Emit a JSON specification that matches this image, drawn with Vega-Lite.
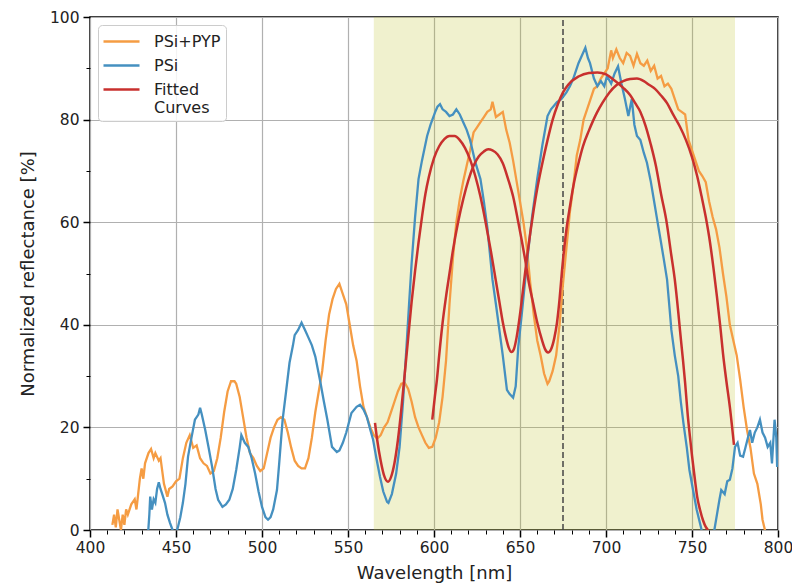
{
  "$schema": "https://vega.github.io/schema/vega-lite/v6.json",
  "width": 688,
  "height": 513,
  "autosize": {"type": "none"},
  "padding": {"left": 90, "top": 17, "right": 14, "bottom": 58},
  "background": "white",
  "config": {
    "view": {"stroke": "black", "strokeWidth": 1.5},
    "font": "DejaVu Sans",
    "axis": {
      "labelFont": "DejaVu Sans", "labelFontSize": 15.5, "labelColor": "#222",
      "titleFont": "DejaVu Sans", "titleFontSize": 18, "titleFontWeight": "normal", "titleColor": "#222",
      "domain": false, "tickColor": "black", "gridColor": "#b0b0b0", "gridWidth": 1.2
    },
    "legend": {
      "labelFont": "DejaVu Sans", "labelFontSize": 16, "labelColor": "#222"
    }
  },
  "datasets": {
    "curves": [
      {"w":413,"r":1,"s":"PSi+PYP"},{"w":414,"r":3,"s":"PSi+PYP"},{"w":415,"r":0.5,"s":"PSi+PYP"},{"w":416,"r":4,"s":"PSi+PYP"},{"w":417,"r":2,"s":"PSi+PYP"},{"w":418,"r":0,"s":"PSi+PYP"},{"w":419,"r":3,"s":"PSi+PYP"},{"w":420,"r":1,"s":"PSi+PYP"},{"w":421,"r":4,"s":"PSi+PYP"},{"w":422,"r":3,"s":"PSi+PYP"},{"w":424,"r":5,"s":"PSi+PYP"},{"w":426,"r":6,"s":"PSi+PYP"},{"w":427,"r":4,"s":"PSi+PYP"},{"w":428,"r":7,"s":"PSi+PYP"},{"w":429,"r":10,"s":"PSi+PYP"},{"w":430,"r":12,"s":"PSi+PYP"},{"w":431,"r":10,"s":"PSi+PYP"},{"w":432,"r":13,"s":"PSi+PYP"},{"w":434,"r":15,"s":"PSi+PYP"},{"w":435.5,"r":15.8,"s":"PSi+PYP"},{"w":437,"r":14,"s":"PSi+PYP"},{"w":438,"r":15,"s":"PSi+PYP"},{"w":440,"r":13.5,"s":"PSi+PYP"},{"w":441,"r":14,"s":"PSi+PYP"},{"w":443,"r":9,"s":"PSi+PYP"},{"w":445,"r":6.5,"s":"PSi+PYP"},{"w":446,"r":8,"s":"PSi+PYP"},{"w":448,"r":8.5,"s":"PSi+PYP"},{"w":450,"r":9.5,"s":"PSi+PYP"},{"w":452,"r":10,"s":"PSi+PYP"},{"w":454,"r":14,"s":"PSi+PYP"},{"w":456,"r":17,"s":"PSi+PYP"},{"w":458,"r":18.5,"s":"PSi+PYP"},{"w":460,"r":16,"s":"PSi+PYP"},{"w":462,"r":16.5,"s":"PSi+PYP"},{"w":464,"r":14,"s":"PSi+PYP"},{"w":466,"r":13,"s":"PSi+PYP"},{"w":468,"r":12.5,"s":"PSi+PYP"},{"w":470,"r":11,"s":"PSi+PYP"},{"w":472,"r":11.5,"s":"PSi+PYP"},{"w":474,"r":14,"s":"PSi+PYP"},{"w":476,"r":18,"s":"PSi+PYP"},{"w":478,"r":23,"s":"PSi+PYP"},{"w":480,"r":27,"s":"PSi+PYP"},{"w":482,"r":29,"s":"PSi+PYP"},{"w":484,"r":29,"s":"PSi+PYP"},{"w":485,"r":28.5,"s":"PSi+PYP"},{"w":487,"r":26,"s":"PSi+PYP"},{"w":489,"r":22,"s":"PSi+PYP"},{"w":491,"r":18,"s":"PSi+PYP"},{"w":493,"r":15,"s":"PSi+PYP"},{"w":495,"r":14,"s":"PSi+PYP"},{"w":497,"r":12.5,"s":"PSi+PYP"},{"w":499,"r":11.5,"s":"PSi+PYP"},{"w":501,"r":12,"s":"PSi+PYP"},{"w":503,"r":15,"s":"PSi+PYP"},{"w":505,"r":18,"s":"PSi+PYP"},{"w":507,"r":20,"s":"PSi+PYP"},{"w":509,"r":21.5,"s":"PSi+PYP"},{"w":511,"r":22,"s":"PSi+PYP"},{"w":513,"r":21.5,"s":"PSi+PYP"},{"w":515,"r":19,"s":"PSi+PYP"},{"w":517,"r":16,"s":"PSi+PYP"},{"w":519,"r":13.5,"s":"PSi+PYP"},{"w":521,"r":12.5,"s":"PSi+PYP"},{"w":523,"r":12,"s":"PSi+PYP"},{"w":525,"r":12,"s":"PSi+PYP"},{"w":527,"r":14,"s":"PSi+PYP"},{"w":529,"r":18,"s":"PSi+PYP"},{"w":531,"r":23,"s":"PSi+PYP"},{"w":533,"r":27,"s":"PSi+PYP"},{"w":535,"r":31,"s":"PSi+PYP"},{"w":537,"r":37,"s":"PSi+PYP"},{"w":539,"r":42,"s":"PSi+PYP"},{"w":541,"r":45,"s":"PSi+PYP"},{"w":543,"r":47,"s":"PSi+PYP"},{"w":545,"r":48,"s":"PSi+PYP"},{"w":547,"r":46,"s":"PSi+PYP"},{"w":549,"r":44,"s":"PSi+PYP"},{"w":551,"r":40,"s":"PSi+PYP"},{"w":553,"r":36,"s":"PSi+PYP"},{"w":555,"r":33,"s":"PSi+PYP"},{"w":557,"r":28,"s":"PSi+PYP"},{"w":559,"r":24,"s":"PSi+PYP"},{"w":561,"r":22,"s":"PSi+PYP"},{"w":563,"r":20,"s":"PSi+PYP"},{"w":565,"r":18.5,"s":"PSi+PYP"},{"w":567,"r":17.8,"s":"PSi+PYP"},{"w":569,"r":18.5,"s":"PSi+PYP"},{"w":571,"r":20,"s":"PSi+PYP"},{"w":573,"r":21,"s":"PSi+PYP"},{"w":575,"r":23,"s":"PSi+PYP"},{"w":577,"r":25,"s":"PSi+PYP"},{"w":579,"r":27,"s":"PSi+PYP"},{"w":581,"r":28.5,"s":"PSi+PYP"},{"w":583,"r":28.7,"s":"PSi+PYP"},{"w":585,"r":27.5,"s":"PSi+PYP"},{"w":587,"r":25,"s":"PSi+PYP"},{"w":589,"r":22,"s":"PSi+PYP"},{"w":591,"r":20,"s":"PSi+PYP"},{"w":593,"r":18.5,"s":"PSi+PYP"},{"w":595,"r":17,"s":"PSi+PYP"},{"w":597,"r":16,"s":"PSi+PYP"},{"w":599,"r":16.2,"s":"PSi+PYP"},{"w":601,"r":18,"s":"PSi+PYP"},{"w":603,"r":21,"s":"PSi+PYP"},{"w":605,"r":26,"s":"PSi+PYP"},{"w":607,"r":33,"s":"PSi+PYP"},{"w":609,"r":44,"s":"PSi+PYP"},{"w":611,"r":53,"s":"PSi+PYP"},{"w":613,"r":60,"s":"PSi+PYP"},{"w":615,"r":64.5,"s":"PSi+PYP"},{"w":617,"r":68,"s":"PSi+PYP"},{"w":619,"r":71,"s":"PSi+PYP"},{"w":621,"r":74,"s":"PSi+PYP"},{"w":623,"r":77.5,"s":"PSi+PYP"},{"w":625,"r":78.5,"s":"PSi+PYP"},{"w":627,"r":79.5,"s":"PSi+PYP"},{"w":629,"r":80.5,"s":"PSi+PYP"},{"w":631,"r":81.5,"s":"PSi+PYP"},{"w":633,"r":82,"s":"PSi+PYP"},{"w":634,"r":83.5,"s":"PSi+PYP"},{"w":635,"r":82,"s":"PSi+PYP"},{"w":636,"r":80.5,"s":"PSi+PYP"},{"w":638,"r":81,"s":"PSi+PYP"},{"w":640,"r":81.5,"s":"PSi+PYP"},{"w":642,"r":78,"s":"PSi+PYP"},{"w":644,"r":75.5,"s":"PSi+PYP"},{"w":646,"r":72,"s":"PSi+PYP"},{"w":648,"r":68,"s":"PSi+PYP"},{"w":650,"r":64,"s":"PSi+PYP"},{"w":652,"r":60,"s":"PSi+PYP"},{"w":654,"r":55,"s":"PSi+PYP"},{"w":656,"r":48,"s":"PSi+PYP"},{"w":658,"r":42,"s":"PSi+PYP"},{"w":660,"r":37,"s":"PSi+PYP"},{"w":662,"r":34,"s":"PSi+PYP"},{"w":664,"r":30.5,"s":"PSi+PYP"},{"w":666,"r":28.5,"s":"PSi+PYP"},{"w":667,"r":29,"s":"PSi+PYP"},{"w":669,"r":31,"s":"PSi+PYP"},{"w":671,"r":34,"s":"PSi+PYP"},{"w":673,"r":40,"s":"PSi+PYP"},{"w":675,"r":48,"s":"PSi+PYP"},{"w":677,"r":55,"s":"PSi+PYP"},{"w":679,"r":62,"s":"PSi+PYP"},{"w":681,"r":67,"s":"PSi+PYP"},{"w":683,"r":73,"s":"PSi+PYP"},{"w":685,"r":76,"s":"PSi+PYP"},{"w":687,"r":80,"s":"PSi+PYP"},{"w":689,"r":82,"s":"PSi+PYP"},{"w":691,"r":84,"s":"PSi+PYP"},{"w":693,"r":86,"s":"PSi+PYP"},{"w":695,"r":86.5,"s":"PSi+PYP"},{"w":697,"r":88,"s":"PSi+PYP"},{"w":699,"r":89,"s":"PSi+PYP"},{"w":701,"r":90,"s":"PSi+PYP"},{"w":703,"r":93.5,"s":"PSi+PYP"},{"w":704,"r":92,"s":"PSi+PYP"},{"w":706,"r":93.7,"s":"PSi+PYP"},{"w":708,"r":92,"s":"PSi+PYP"},{"w":710,"r":91,"s":"PSi+PYP"},{"w":712,"r":93,"s":"PSi+PYP"},{"w":714,"r":92.4,"s":"PSi+PYP"},{"w":716,"r":90.5,"s":"PSi+PYP"},{"w":718,"r":92.8,"s":"PSi+PYP"},{"w":720,"r":91,"s":"PSi+PYP"},{"w":722,"r":90.5,"s":"PSi+PYP"},{"w":724,"r":91.5,"s":"PSi+PYP"},{"w":726,"r":89.5,"s":"PSi+PYP"},{"w":728,"r":90.5,"s":"PSi+PYP"},{"w":730,"r":88,"s":"PSi+PYP"},{"w":732,"r":88.5,"s":"PSi+PYP"},{"w":734,"r":86.5,"s":"PSi+PYP"},{"w":736,"r":87,"s":"PSi+PYP"},{"w":738,"r":86,"s":"PSi+PYP"},{"w":740,"r":84,"s":"PSi+PYP"},{"w":742,"r":82,"s":"PSi+PYP"},{"w":744,"r":81.5,"s":"PSi+PYP"},{"w":746,"r":81,"s":"PSi+PYP"},{"w":748,"r":76,"s":"PSi+PYP"},{"w":750,"r":74,"s":"PSi+PYP"},{"w":752,"r":72,"s":"PSi+PYP"},{"w":754,"r":70,"s":"PSi+PYP"},{"w":756,"r":69,"s":"PSi+PYP"},{"w":758,"r":67.8,"s":"PSi+PYP"},{"w":760,"r":64,"s":"PSi+PYP"},{"w":762,"r":61,"s":"PSi+PYP"},{"w":764,"r":58.6,"s":"PSi+PYP"},{"w":766,"r":55,"s":"PSi+PYP"},{"w":768,"r":50,"s":"PSi+PYP"},{"w":770,"r":45.5,"s":"PSi+PYP"},{"w":772,"r":40,"s":"PSi+PYP"},{"w":774,"r":37,"s":"PSi+PYP"},{"w":776,"r":34,"s":"PSi+PYP"},{"w":778,"r":29.3,"s":"PSi+PYP"},{"w":780,"r":24,"s":"PSi+PYP"},{"w":782,"r":19.5,"s":"PSi+PYP"},{"w":784,"r":16,"s":"PSi+PYP"},{"w":786,"r":11,"s":"PSi+PYP"},{"w":788,"r":9,"s":"PSi+PYP"},{"w":790,"r":5,"s":"PSi+PYP"},{"w":791,"r":2,"s":"PSi+PYP"},{"w":792.4,"r":0,"s":"PSi+PYP"},{"w":793,"r":-3,"s":"PSi+PYP"},

      {"w":433.7,"r":-1,"s":"PSi"},{"w":434.5,"r":3,"s":"PSi"},{"w":435,"r":6.5,"s":"PSi"},{"w":436,"r":4,"s":"PSi"},{"w":437,"r":6,"s":"PSi"},{"w":438,"r":5.3,"s":"PSi"},{"w":439,"r":8,"s":"PSi"},{"w":440,"r":9.3,"s":"PSi"},{"w":441,"r":8,"s":"PSi"},{"w":442,"r":7,"s":"PSi"},{"w":443.6,"r":5.3,"s":"PSi"},{"w":445,"r":3,"s":"PSi"},{"w":446.5,"r":1.4,"s":"PSi"},{"w":448,"r":0,"s":"PSi"},{"w":449.5,"r":-1,"s":"PSi"},{"w":451,"r":0.4,"s":"PSi"},{"w":452.5,"r":2.5,"s":"PSi"},{"w":454,"r":5.3,"s":"PSi"},{"w":455.5,"r":9,"s":"PSi"},{"w":457,"r":14.3,"s":"PSi"},{"w":459,"r":18,"s":"PSi"},{"w":461,"r":21.5,"s":"PSi"},{"w":463,"r":22.5,"s":"PSi"},{"w":464,"r":23.8,"s":"PSi"},{"w":465,"r":22.5,"s":"PSi"},{"w":467,"r":19.5,"s":"PSi"},{"w":469,"r":16,"s":"PSi"},{"w":471,"r":12.3,"s":"PSi"},{"w":473,"r":8,"s":"PSi"},{"w":474.5,"r":5.9,"s":"PSi"},{"w":477,"r":4.5,"s":"PSi"},{"w":479,"r":5,"s":"PSi"},{"w":481,"r":5.9,"s":"PSi"},{"w":483,"r":8,"s":"PSi"},{"w":485,"r":11.7,"s":"PSi"},{"w":487,"r":16,"s":"PSi"},{"w":488,"r":18.5,"s":"PSi"},{"w":490,"r":17,"s":"PSi"},{"w":492,"r":16.2,"s":"PSi"},{"w":494,"r":14,"s":"PSi"},{"w":496,"r":11,"s":"PSi"},{"w":498,"r":7.5,"s":"PSi"},{"w":500,"r":4.5,"s":"PSi"},{"w":502,"r":2.5,"s":"PSi"},{"w":503.5,"r":2,"s":"PSi"},{"w":505,"r":2.5,"s":"PSi"},{"w":506.5,"r":4,"s":"PSi"},{"w":508.7,"r":7.8,"s":"PSi"},{"w":510,"r":13,"s":"PSi"},{"w":512,"r":21.5,"s":"PSi"},{"w":514,"r":27,"s":"PSi"},{"w":516,"r":32.6,"s":"PSi"},{"w":518,"r":36,"s":"PSi"},{"w":519,"r":38,"s":"PSi"},{"w":521,"r":39,"s":"PSi"},{"w":523,"r":40.4,"s":"PSi"},{"w":525,"r":39,"s":"PSi"},{"w":527,"r":37.5,"s":"PSi"},{"w":529,"r":36,"s":"PSi"},{"w":531,"r":33.8,"s":"PSi"},{"w":534,"r":28.7,"s":"PSi"},{"w":536,"r":25,"s":"PSi"},{"w":538,"r":21.5,"s":"PSi"},{"w":540.7,"r":16.2,"s":"PSi"},{"w":543.5,"r":15.2,"s":"PSi"},{"w":545,"r":15.5,"s":"PSi"},{"w":547,"r":17,"s":"PSi"},{"w":549,"r":19,"s":"PSi"},{"w":552,"r":22.8,"s":"PSi"},{"w":555,"r":24,"s":"PSi"},{"w":557,"r":24.4,"s":"PSi"},{"w":559,"r":23.5,"s":"PSi"},{"w":561,"r":22,"s":"PSi"},{"w":563,"r":19.5,"s":"PSi"},{"w":564.6,"r":17.6,"s":"PSi"},{"w":566.5,"r":14,"s":"PSi"},{"w":568.6,"r":10.4,"s":"PSi"},{"w":570.5,"r":7.5,"s":"PSi"},{"w":572.7,"r":5.5,"s":"PSi"},{"w":573.5,"r":5.3,"s":"PSi"},{"w":575.5,"r":7,"s":"PSi"},{"w":578,"r":11,"s":"PSi"},{"w":580,"r":16.2,"s":"PSi"},{"w":582,"r":25,"s":"PSi"},{"w":584,"r":35.7,"s":"PSi"},{"w":585.5,"r":44,"s":"PSi"},{"w":587,"r":52,"s":"PSi"},{"w":589,"r":61,"s":"PSi"},{"w":591,"r":68.4,"s":"PSi"},{"w":593,"r":72,"s":"PSi"},{"w":596,"r":76.8,"s":"PSi"},{"w":598,"r":79,"s":"PSi"},{"w":600.6,"r":81.4,"s":"PSi"},{"w":602,"r":82.5,"s":"PSi"},{"w":603.5,"r":83,"s":"PSi"},{"w":605,"r":82,"s":"PSi"},{"w":607,"r":81.5,"s":"PSi"},{"w":609,"r":80.7,"s":"PSi"},{"w":611,"r":81,"s":"PSi"},{"w":613,"r":82,"s":"PSi"},{"w":615,"r":81,"s":"PSi"},{"w":617,"r":79.5,"s":"PSi"},{"w":619,"r":78,"s":"PSi"},{"w":621,"r":76,"s":"PSi"},{"w":624,"r":71.7,"s":"PSi"},{"w":627,"r":68.4,"s":"PSi"},{"w":629,"r":64,"s":"PSi"},{"w":631,"r":59,"s":"PSi"},{"w":634,"r":48.8,"s":"PSi"},{"w":636,"r":44,"s":"PSi"},{"w":638,"r":39,"s":"PSi"},{"w":640,"r":34,"s":"PSi"},{"w":642.4,"r":27.3,"s":"PSi"},{"w":644,"r":26.5,"s":"PSi"},{"w":646,"r":25.8,"s":"PSi"},{"w":647.5,"r":28,"s":"PSi"},{"w":649,"r":35.7,"s":"PSi"},{"w":651,"r":42,"s":"PSi"},{"w":654,"r":52,"s":"PSi"},{"w":657,"r":61,"s":"PSi"},{"w":660,"r":68.4,"s":"PSi"},{"w":663,"r":75,"s":"PSi"},{"w":666,"r":80.7,"s":"PSi"},{"w":668,"r":82,"s":"PSi"},{"w":671.5,"r":83.4,"s":"PSi"},{"w":674,"r":84,"s":"PSi"},{"w":677,"r":85.3,"s":"PSi"},{"w":679,"r":86.5,"s":"PSi"},{"w":681,"r":88,"s":"PSi"},{"w":684,"r":91,"s":"PSi"},{"w":686,"r":92.5,"s":"PSi"},{"w":688,"r":94,"s":"PSi"},{"w":689.5,"r":92,"s":"PSi"},{"w":690.7,"r":91,"s":"PSi"},{"w":693,"r":88,"s":"PSi"},{"w":695,"r":86.5,"s":"PSi"},{"w":697,"r":87.5,"s":"PSi"},{"w":699,"r":86.5,"s":"PSi"},{"w":700.6,"r":88.5,"s":"PSi"},{"w":703,"r":87,"s":"PSi"},{"w":705,"r":89,"s":"PSi"},{"w":707,"r":90.4,"s":"PSi"},{"w":709,"r":87,"s":"PSi"},{"w":711,"r":84,"s":"PSi"},{"w":713,"r":80.7,"s":"PSi"},{"w":715,"r":84,"s":"PSi"},{"w":716.5,"r":79,"s":"PSi"},{"w":718,"r":76.8,"s":"PSi"},{"w":720,"r":76,"s":"PSi"},{"w":722,"r":73.5,"s":"PSi"},{"w":723.8,"r":71.6,"s":"PSi"},{"w":726,"r":68,"s":"PSi"},{"w":727.5,"r":65,"s":"PSi"},{"w":729.5,"r":61,"s":"PSi"},{"w":731.4,"r":57.2,"s":"PSi"},{"w":733.5,"r":53,"s":"PSi"},{"w":735.5,"r":48.8,"s":"PSi"},{"w":737,"r":43,"s":"PSi"},{"w":738,"r":39,"s":"PSi"},{"w":740,"r":34,"s":"PSi"},{"w":742,"r":30,"s":"PSi"},{"w":743.5,"r":25,"s":"PSi"},{"w":745,"r":20.9,"s":"PSi"},{"w":747,"r":16,"s":"PSi"},{"w":748.5,"r":11.7,"s":"PSi"},{"w":750.5,"r":8,"s":"PSi"},{"w":752.7,"r":4,"s":"PSi"},{"w":755.6,"r":0,"s":"PSi"},{"w":757,"r":-4,"s":"PSi"},{"w":760,"r":-6,"s":"PSi"},{"w":763,"r":0,"s":"PSi"},{"w":764.5,"r":3,"s":"PSi"},{"w":766,"r":6,"s":"PSi"},{"w":767,"r":7.8,"s":"PSi"},{"w":769,"r":7,"s":"PSi"},{"w":770.5,"r":9.5,"s":"PSi"},{"w":772,"r":9.8,"s":"PSi"},{"w":773.5,"r":12,"s":"PSi"},{"w":775,"r":16.2,"s":"PSi"},{"w":776.5,"r":17,"s":"PSi"},{"w":778,"r":14.5,"s":"PSi"},{"w":779.7,"r":14.3,"s":"PSi"},{"w":781,"r":16,"s":"PSi"},{"w":782.5,"r":18,"s":"PSi"},{"w":783.7,"r":19.5,"s":"PSi"},{"w":785,"r":17,"s":"PSi"},{"w":786.5,"r":19,"s":"PSi"},{"w":788,"r":20,"s":"PSi"},{"w":789.5,"r":21.5,"s":"PSi"},{"w":791,"r":19,"s":"PSi"},{"w":792.5,"r":18,"s":"PSi"},{"w":794,"r":16.2,"s":"PSi"},{"w":795.5,"r":17,"s":"PSi"},{"w":796.5,"r":13,"s":"PSi"},{"w":798,"r":21.5,"s":"PSi"},{"w":799,"r":18,"s":"PSi"},{"w":799.5,"r":12.3,"s":"PSi"}
    ],
    "fits": [
      {"w":565.7,"r":20.9,"g":"fit1"},{"w":567,"r":17.5,"g":"fit1"},{"w":569,"r":13.5,"g":"fit1"},{"w":571,"r":10.6,"g":"fit1"},{"w":573.3,"r":9.4,"g":"fit1"},{"w":575,"r":10.3,"g":"fit1"},{"w":577,"r":13,"g":"fit1"},{"w":579,"r":17.5,"g":"fit1"},{"w":581,"r":23.5,"g":"fit1"},{"w":583,"r":30.5,"g":"fit1"},{"w":585,"r":37.5,"g":"fit1"},{"w":587,"r":44.5,"g":"fit1"},{"w":589,"r":50.5,"g":"fit1"},{"w":591,"r":56,"g":"fit1"},{"w":593,"r":61,"g":"fit1"},{"w":595,"r":65.5,"g":"fit1"},{"w":597,"r":68.8,"g":"fit1"},{"w":600,"r":72.5,"g":"fit1"},{"w":603,"r":74.8,"g":"fit1"},{"w":606,"r":76.2,"g":"fit1"},{"w":609,"r":76.8,"g":"fit1"},{"w":612,"r":76.8,"g":"fit1"},{"w":615,"r":76,"g":"fit1"},{"w":618,"r":74.5,"g":"fit1"},{"w":621,"r":72.2,"g":"fit1"},{"w":624,"r":69,"g":"fit1"},{"w":627,"r":65,"g":"fit1"},{"w":630,"r":60,"g":"fit1"},{"w":633,"r":54.5,"g":"fit1"},{"w":636,"r":48.5,"g":"fit1"},{"w":638,"r":44.5,"g":"fit1"},{"w":640,"r":40.5,"g":"fit1"},{"w":642,"r":37.3,"g":"fit1"},{"w":643.5,"r":35.5,"g":"fit1"},{"w":645,"r":34.7,"g":"fit1"},{"w":646.5,"r":35.3,"g":"fit1"},{"w":648,"r":37.5,"g":"fit1"},{"w":650,"r":42,"g":"fit1"},{"w":652,"r":47.5,"g":"fit1"},{"w":654,"r":53,"g":"fit1"},{"w":656,"r":58,"g":"fit1"},{"w":658,"r":62.5,"g":"fit1"},{"w":660,"r":66.5,"g":"fit1"},{"w":663,"r":71.5,"g":"fit1"},{"w":666,"r":76,"g":"fit1"},{"w":669,"r":80,"g":"fit1"},{"w":672,"r":83,"g":"fit1"},{"w":675,"r":85.3,"g":"fit1"},{"w":678,"r":86.8,"g":"fit1"},{"w":684,"r":88.4,"g":"fit1"},{"w":690,"r":89.1,"g":"fit1"},{"w":695,"r":89.2,"g":"fit1"},{"w":700,"r":88.8,"g":"fit1"},{"w":705,"r":87.6,"g":"fit1"},{"w":710,"r":86.2,"g":"fit1"},{"w":714,"r":84.8,"g":"fit1"},{"w":717,"r":83.2,"g":"fit1"},{"w":720,"r":81.5,"g":"fit1"},{"w":723,"r":78.8,"g":"fit1"},{"w":726,"r":75.2,"g":"fit1"},{"w":729,"r":71,"g":"fit1"},{"w":732,"r":65.5,"g":"fit1"},{"w":735,"r":60.5,"g":"fit1"},{"w":738,"r":53.5,"g":"fit1"},{"w":740,"r":48.8,"g":"fit1"},{"w":742,"r":42.5,"g":"fit1"},{"w":743,"r":39,"g":"fit1"},{"w":744.5,"r":34,"g":"fit1"},{"w":746,"r":28.7,"g":"fit1"},{"w":747.5,"r":22.5,"g":"fit1"},{"w":748.8,"r":18.2,"g":"fit1"},{"w":750,"r":14.5,"g":"fit1"},{"w":751.7,"r":9.8,"g":"fit1"},{"w":753,"r":6.5,"g":"fit1"},{"w":754.7,"r":3.9,"g":"fit1"},{"w":756.5,"r":1.8,"g":"fit1"},{"w":758,"r":0.6,"g":"fit1"},{"w":759.3,"r":0,"g":"fit1"},

      {"w":599,"r":21.5,"g":"fit2"},{"w":600.5,"r":26,"g":"fit2"},{"w":601.7,"r":29.3,"g":"fit2"},{"w":603,"r":34,"g":"fit2"},{"w":605,"r":40.4,"g":"fit2"},{"w":607,"r":45.5,"g":"fit2"},{"w":609,"r":50,"g":"fit2"},{"w":611,"r":54.5,"g":"fit2"},{"w":614,"r":60,"g":"fit2"},{"w":617,"r":64.5,"g":"fit2"},{"w":620,"r":68.2,"g":"fit2"},{"w":623,"r":71,"g":"fit2"},{"w":626,"r":72.8,"g":"fit2"},{"w":629,"r":73.8,"g":"fit2"},{"w":631.5,"r":74.2,"g":"fit2"},{"w":634,"r":74,"g":"fit2"},{"w":637,"r":73.2,"g":"fit2"},{"w":640,"r":71.5,"g":"fit2"},{"w":643,"r":68.5,"g":"fit2"},{"w":646,"r":65,"g":"fit2"},{"w":649,"r":60,"g":"fit2"},{"w":651,"r":56.5,"g":"fit2"},{"w":653,"r":52.7,"g":"fit2"},{"w":655,"r":48.5,"g":"fit2"},{"w":657.6,"r":44.3,"g":"fit2"},{"w":660,"r":40.5,"g":"fit2"},{"w":662.8,"r":37,"g":"fit2"},{"w":664.5,"r":35.3,"g":"fit2"},{"w":666.3,"r":34.6,"g":"fit2"},{"w":668,"r":35.2,"g":"fit2"},{"w":670,"r":37.5,"g":"fit2"},{"w":671.5,"r":40.4,"g":"fit2"},{"w":673,"r":45,"g":"fit2"},{"w":674.4,"r":50.5,"g":"fit2"},{"w":677,"r":58.6,"g":"fit2"},{"w":679,"r":63,"g":"fit2"},{"w":681,"r":67,"g":"fit2"},{"w":684,"r":71.5,"g":"fit2"},{"w":686.6,"r":74.8,"g":"fit2"},{"w":690,"r":77.8,"g":"fit2"},{"w":694.8,"r":81.4,"g":"fit2"},{"w":698,"r":83.3,"g":"fit2"},{"w":702,"r":85.3,"g":"fit2"},{"w":706,"r":86.7,"g":"fit2"},{"w":710,"r":87.5,"g":"fit2"},{"w":714,"r":87.9,"g":"fit2"},{"w":718,"r":88,"g":"fit2"},{"w":722,"r":87.5,"g":"fit2"},{"w":725,"r":86.8,"g":"fit2"},{"w":728.5,"r":86,"g":"fit2"},{"w":732,"r":84.7,"g":"fit2"},{"w":735.5,"r":83.2,"g":"fit2"},{"w":739,"r":81,"g":"fit2"},{"w":743,"r":78.6,"g":"fit2"},{"w":746.5,"r":76,"g":"fit2"},{"w":750,"r":72.7,"g":"fit2"},{"w":753,"r":69,"g":"fit2"},{"w":755.6,"r":65,"g":"fit2"},{"w":758,"r":61,"g":"fit2"},{"w":760.5,"r":56,"g":"fit2"},{"w":762.5,"r":51,"g":"fit2"},{"w":764.5,"r":45.5,"g":"fit2"},{"w":766.5,"r":39.5,"g":"fit2"},{"w":768,"r":34.5,"g":"fit2"},{"w":770,"r":29,"g":"fit2"},{"w":772,"r":24,"g":"fit2"},{"w":774.4,"r":16.6,"g":"fit2"}
    ]
  },
  "encoding": {
    "x": {
      "field": "w", "type": "quantitative",
      "scale": {"domain": [400, 800], "nice": false, "zero": false},
      "axis": {
        "title": "Wavelength [nm]",
        "values": [400,410,420,430,440,450,460,470,480,490,500,510,520,530,540,550,560,570,580,590,600,610,620,630,640,650,660,670,680,690,700,710,720,730,740,750,760,770,780,790,800],
        "labelExpr": "datum.value % 50 === 0 ? datum.label : ''",
        "tickSize": {"expr": "datum.value % 50 === 0 ? 7 : 4"},
        "tickWidth": {"expr": "datum.value % 50 === 0 ? 1.5 : 1"},
        "gridOpacity": {"expr": "datum.value % 50 === 0 ? 1 : 0"},
        "labelPadding": 3,
        "titlePadding": 9,
        "labelFlush": false
      }
    },
    "y": {
      "field": "r", "type": "quantitative",
      "scale": {"domain": [0, 100], "nice": false},
      "axis": {
        "title": "Normalized reflectance [%]",
        "values": [0,10,20,30,40,50,60,70,80,90,100],
        "labelExpr": "datum.value % 20 === 0 ? datum.label : ''",
        "tickSize": {"expr": "datum.value % 20 === 0 ? 7 : 4"},
        "tickWidth": {"expr": "datum.value % 20 === 0 ? 1.5 : 1"},
        "gridOpacity": {"expr": "datum.value % 20 === 0 ? 1 : 0"},
        "labelPadding": 4,
        "titlePadding": 12,
        "labelFlush": false
      }
    }
  },
  "layer": [
    {
      "data": {"values": [{"w": 565, "w2": 775, "r": 0, "r2": 100}]},
      "mark": {"type": "rect", "fill": "#bcbd22", "opacity": 0.22},
      "encoding": {
        "x2": {"field": "w2"},
        "y2": {"field": "r2"}
      }
    },
    {
      "data": {"values": [{"w": 675, "r": 0, "r2": 100}]},
      "mark": {"type": "rule", "color": "#444444", "strokeWidth": 1.5, "strokeDash": [6, 3]},
      "encoding": {"y2": {"field": "r2"}}
    },
    {
      "data": {"name": "curves"},
      "mark": {"type": "line", "strokeWidth": 2.3, "clip": true},
      "encoding": {
        "color": {
          "field": "s", "type": "nominal",
          "scale": {"domain": ["PSi+PYP", "PSi", "Fitted Curves"], "range": ["#f59c43", "#4590c0", "#c8302e"]},
          "legend": {
            "title": null, "orient": "top-left", "offset": 8,
            "symbolType": "M-1.1,0H2.5", "symbolSize": 400, "symbolStrokeWidth": 2.5,
            "labelOffset": 28, "rowPadding": 4,
            "labelExpr": "datum.label === 'Fitted Curves' ? ['Fitted', 'Curves'] : datum.label",
            "strokeColor": "#cccccc", "fillColor": "rgba(255,255,255,0.85)",
            "cornerRadius": 4, "padding": 5
          }
        },
        "detail": {"field": "s"}
      }
    },
    {
      "data": {"name": "fits"},
      "transform": [{"calculate": "'Fitted Curves'", "as": "s"}],
      "mark": {"type": "line", "strokeWidth": 2.5, "clip": true, "interpolate": "monotone"},
      "encoding": {
        "color": {"field": "s", "type": "nominal"},
        "detail": {"field": "g"}
      }
    }
  ]
}
